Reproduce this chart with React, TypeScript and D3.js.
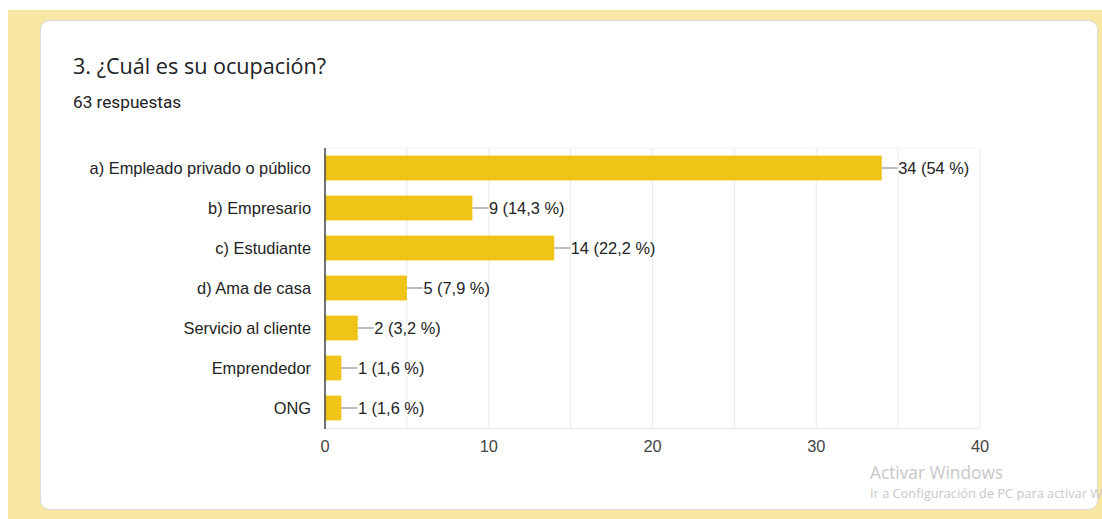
import React from "react";
import * as d3 from "d3";

const categories = [
  "a) Empleado privado o público",
  "b) Empresario",
  "c) Estudiante",
  "d) Ama de casa",
  "Servicio al cliente",
  "Emprendedor",
  "ONG",
];
const counts = [34, 9, 14, 5, 2, 1, 1];
const percentLabels = ["54 %", "14,3 %", "22,2 %", "7,9 %", "3,2 %", "1,6 %", "1,6 %"];
const xTicks = [0, 10, 20, 30, 40];
const gridTicks = [5, 10, 15, 20, 25, 30, 35, 40];

export default function App() {
  const W = 1102, H = 519;
  const x = d3.scaleLinear().domain([0, 40]).range([325, 980]);
  const y = d3.scaleBand<string>().domain(categories).range([148, 428]).paddingInner(0.38).paddingOuter(0.19);
  const font = "Arial, 'Liberation Sans', sans-serif";
  return (
    <svg width={W} height={H} style={{ position: "absolute", left: 0, top: 0 }}>
      <rect x={0} y={0} width={W} height={H} fill="#ffffff" />
      <rect x={8} y={10} width={W - 8} height={H - 10} fill="#f8e7a3" />
      <rect x={40.5} y={20.5} width={1057} height={489} rx={9} fill="#ffffff" stroke="#dadce0" />
      <text x={73} y={74} fontFamily="'Open Sans', Roboto, sans-serif" fontSize={21.6} fill="#202124">3. ¿Cuál es su ocupación?</text>
      <text x={73} y={108} fontFamily="Roboto, sans-serif" fontSize={17.2} fill="#202124">63 respuestas</text>
      {gridTicks.map((t) => (
        <line key={"g" + t} x1={x(t)} x2={x(t)} y1={148} y2={428} stroke="#ebebeb" strokeWidth={1} />
      ))}
      <line x1={325} x2={980} y1={428.5} y2={428.5} stroke="#e6e6e6" />
      <line x1={325} x2={980} y1={148.5} y2={148.5} stroke="#f4f4f4" />
      {categories.map((c, i) => {
        const y0 = y(c)!;
        const bw = y.bandwidth();
        const cy = y0 + bw / 2;
        const xe = x(counts[i]);
        return (
          <g key={c}>
            <rect x={x(0)} y={y0} width={xe - x(0)} height={bw} fill="#efc416" />
            <line x1={xe} x2={xe + 16} y1={cy} y2={cy} stroke="#a8a8a8" strokeWidth={1.5} />
            <text x={xe + 16.5} y={cy} dy="0.36em" fontFamily={font} fontSize={16.4} fill="#222222">
              {`${counts[i]} (${percentLabels[i]})`}
            </text>
            <text x={311} y={cy} dy="0.36em" textAnchor="end" fontFamily={font} fontSize={16.4} fill="#222222">
              {c}
            </text>
          </g>
        );
      })}
      <line x1={325} x2={325} y1={148} y2={429} stroke="#444444" strokeWidth={1.5} />
      {xTicks.map((t) => (
        <text key={"t" + t} x={x(t)} y={452} textAnchor="middle" fontFamily={font} fontSize={16.4} fill="#444444">
          {t}
        </text>
      ))}
      <text x={870} y={479} fontFamily="'Open Sans', sans-serif" fontSize={17.3} fill="#c8c8c8">Activar Windows</text>
      <text x={870} y={498} fontFamily="'Open Sans', sans-serif" fontSize={12.8} fill="#c8c8c8">Ir a Configuración de PC para activar Windows.</text>
    </svg>
  );
}
